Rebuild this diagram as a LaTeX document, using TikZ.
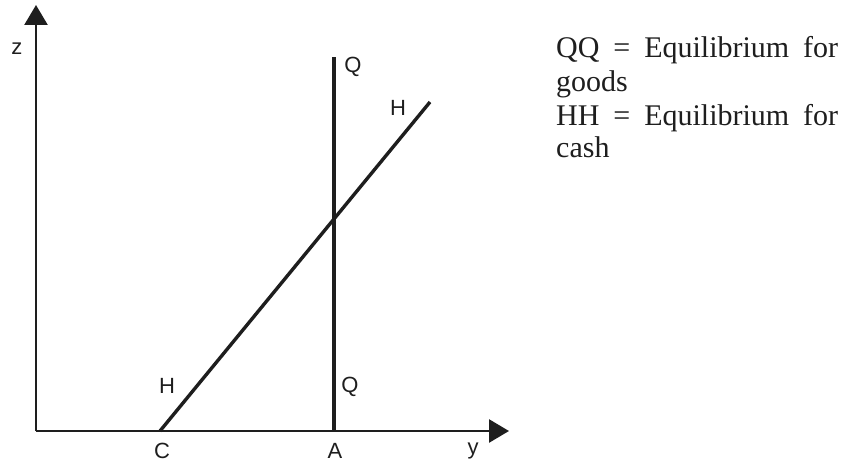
\documentclass[tikz,border=0pt]{standalone}
\usepackage{fontspec}
\setmainfont{Liberation Serif}
\newfontfamily\lsans{Liberation Sans}
\usetikzlibrary{arrows.meta}
\definecolor{ink}{HTML}{1E1E1E}
\begin{document}
\begin{tikzpicture}[x=1pt,y=-1pt,
  axis/.style={draw=ink, line width=2.6pt, -{Triangle[length=20pt,width=23pt]}},
  curve/.style={draw=ink, line width=3.4pt},
  lab/.style={inner sep=0pt, text=ink, font=\lsans\fontsize{22}{25}\selectfont},
  legend/.style={inner sep=0pt, anchor=base west, text=ink, font=\fontsize{30}{33}\selectfont}]
\useasboundingbox (0,0) rectangle (859,465);
\coordinate (O) at (36,431);
\coordinate (ztip) at (36,5);
\coordinate (ytip) at (509,431);
\coordinate (C) at (160,431);
\coordinate (Hend) at (430,102);
\coordinate (A) at (334,431);
\coordinate (Qtop) at (334,57);
\draw[curve] (A) -- (Qtop);
\draw[curve] (C) -- (Hend);
\draw[axis] (O) -- (ztip);
\draw[axis] (O) -- (ytip);
\node[lab] (zl) at (17,49) {z};
\node[lab] (yl) at (473,451) {y};
\node[lab] (cl) at (162,451) {C};
\node[lab] (al) at (335,451) {A};
\node[lab] (qt) at (353,67) {Q};
\node[lab] (ht) at (398,108) {H};
\node[lab] (hb) at (167,386) {H};
\node[lab] (qb) at (350,387) {Q};
\node[legend] (l1) at (556,58) {\makebox[282pt][s]{QQ = Equilibrium for}};
\node[legend] (l2) at (556,92) {goods};
\node[legend] (l3) at (556,126) {\makebox[282pt][s]{HH = Equilibrium for}};
\node[legend] (l4) at (556,158) {cash};
\end{tikzpicture}
\end{document}
